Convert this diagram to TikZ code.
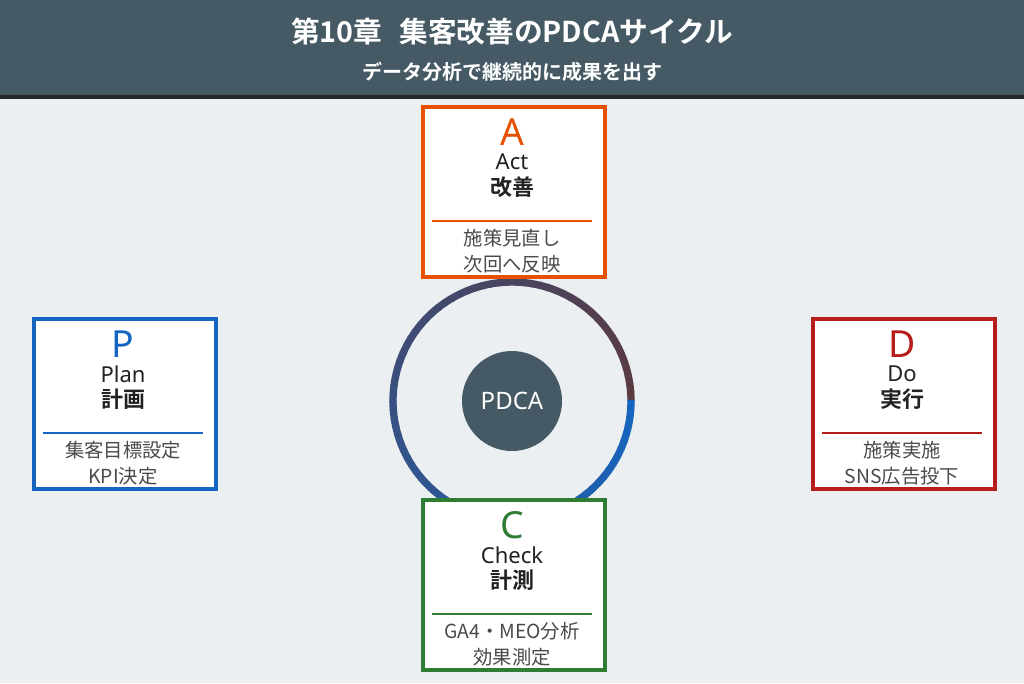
\documentclass[tikz,border=0pt]{standalone}
\usepackage{fontspec}
\setmainfont{Noto Sans CJK JP}[BoldFont={* Bold}]
\newfontfamily\jpb{Noto Sans CJK JP Bold}
\newfontfamily\lat{Noto Sans}
\definecolor{bg}{HTML}{ECEFF1}
\definecolor{hdr}{HTML}{455A64}
\definecolor{cA}{HTML}{E65100}
\definecolor{cP}{HTML}{1565C0}
\definecolor{cD}{HTML}{B71C1C}
\definecolor{cC}{HTML}{2E7D32}
\definecolor{rb}{HTML}{5B3A40}
\definecolor{txt}{HTML}{212121}
\definecolor{sub}{HTML}{4A4A4A}
\begin{document}
\begin{tikzpicture}[x=0.75pt,y=-0.75pt,
 pbox/.style={draw=#1,line width=3pt,fill=white},
 letter/.style={font=\lat\bfseries\fontsize{28}{28}\selectfont,text=#1},
 tname/.style={font=\jpb\fontsize{16.5}{16.5}\selectfont,text=txt},
 tsub/.style={font=\fontsize{14.5}{14.5}\selectfont,text=sub}]
\fill[bg] (0,0) rectangle (1024,683);
\useasboundingbox (0,0) rectangle (1024,683);
\fill[hdr] (0,0) rectangle (1024,95);
\fill[black!85] (0,95) rectangle (1024,99);
\node[font=\jpb\fontsize{21.5}{21.5}\selectfont,text=white] (title) at (512,32) {第10章\hspace{0.6em}集客改善のPDCAサイクル};
\node[font=\jpb\fontsize{15}{15}\selectfont,text=white] (subt) at (512,72) {データ分析で継続的に成果を出す};
% ring
\foreach \i in {0,...,89}{
 \pgfmathsetmacro\pc{100-\i/89*100}
 \draw[line width=5.5pt,color=rb!\pc!cP] (512,401) ++(-\i*4:119) arc[start angle=-\i*4,end angle=-\i*4-4.6,radius=119];
}
\node[circle,fill=hdr,minimum size=75pt,inner sep=0,font=\lat\bfseries\fontsize{18}{18}\selectfont,text=white] (c) at (512,401) {PDCA};
% boxes
\newcommand\pbx[8]{%
 \node[pbox=#1,minimum width=136.5pt,minimum height=127.5pt,anchor=north west] (b#2) at (#3+2,#4+2) {};
 \node[letter=#1] (l#2) at (#3+93,#4+29) {#2};
 \node[tname] (n#2) at (#3+93,#4+59) {\lat\bfseries #5};
 \node[tname] (j#2) at (#3+93,#4+84) {#6};
 \draw[#1,line width=2.2pt] (#3+13,#4+118) -- (#3+173,#4+118);
 \node[tsub] (s#2) at (#3+93,#4+135) {#7};
 \node[tsub] (t#2) at (#3+93,#4+161) {#8};}
\pbx{cA}{A}{419}{103}{Act}{改善}{施策見直し}{次回へ反映}
\pbx{cP}{P}{30}{315}{Plan}{計画}{集客目標設定}{KPI決定}
\pbx{cD}{D}{809}{315}{Do}{実行}{施策実施}{SNS広告投下}
\pbx{cC}{C}{419}{496}{Check}{計測}{GA4・MEO分析}{効果測定}
\end{tikzpicture}
\end{document}
